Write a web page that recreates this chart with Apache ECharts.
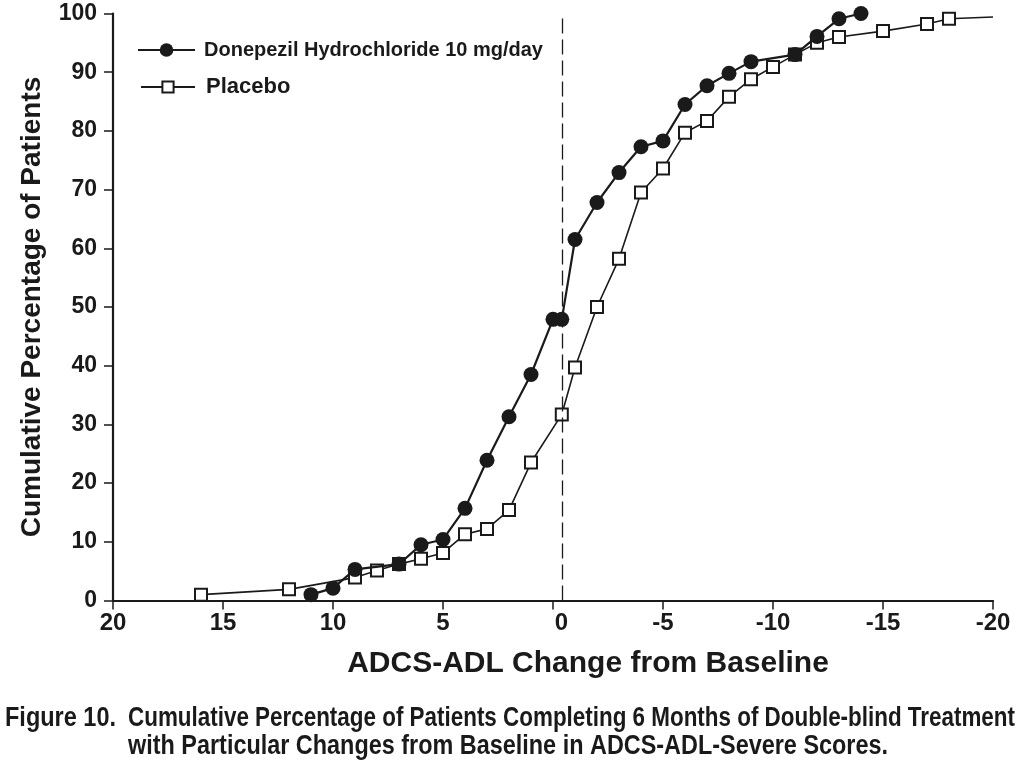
<!DOCTYPE html>
<html>
<head>
<meta charset="utf-8">
<script src="https://cdn.jsdelivr.net/npm/echarts@6/dist/echarts.min.js"></script>
<style>
  html, body { margin: 0; padding: 0; background: #fff; }
  #chart { width: 1020px; height: 772px; }
</style>
</head>
<body>
<div id="chart"></div>
<script>
// ---- Data ----
const xTicks = [20, 15, 10, 5, 0, -5, -10, -15, -20];
const yTicks = [0, 10, 20, 30, 40, 50, 60, 70, 80, 90, 100];

const donepezilName = 'Donepezil Hydrochloride 10 mg/day';
const donepezilX = [11, 10, 9, 7, 6, 5, 4, 3, 2, 1, 0, -0.4, -1, -2, -3, -4, -5, -6, -7, -8, -9, -11, -12, -13, -14];
const donepezilY = [1.0, 2.1, 5.3, 6.2, 9.5, 10.4, 15.7, 23.9, 31.3, 38.5, 47.9, 47.9, 61.5, 67.8, 72.9, 77.3, 78.3, 84.5, 87.7, 89.8, 91.8, 93.0, 96.1, 99.1, 100];

const placeboName = 'Placebo';
const placeboX = [16, 12, 9, 8, 7, 6, 5, 4, 3, 2, 1, -0.4, -1, -2, -3, -4, -5, -6, -7, -8, -9, -10, -11, -12, -13, -15, -17, -18, -20];
const placeboY = [1.0, 1.9, 3.9, 5.1, 6.2, 7.1, 8.1, 11.3, 12.2, 15.4, 23.5, 31.7, 39.7, 50.0, 58.2, 69.5, 73.6, 79.7, 81.7, 85.8, 88.8, 90.9, 93.0, 95.0, 96.0, 97.0, 98.2, 99.1, 99.4];
const placeboNoMarker = [-20]; // line continues to the axis end without a marker

const referenceLineX = -0.4; // dashed vertical reference line (drawn at the "0" tick)

const xAxisTitle = 'ADCS-ADL Change from Baseline';
const yAxisTitle = 'Cumulative Percentage of Patients';
const captionLabel = 'Figure 10.';
const captionLine1 = 'Cumulative Percentage of Patients Completing 6 Months of Double-blind Treatment';
const captionLine2 = 'with Particular Changes from Baseline in ADCS-ADL-Severe Scores.';

// ---- Build ----
const FONT = '"Liberation Sans", Arial, Helvetica, sans-serif';
const INK = '#1a1a1a';

const donepezilData = donepezilX.map((x, i) => [x, donepezilY[i]]);
const placeboData = placeboX.map((x, i) => {
  const item = { value: [x, placeboY[i]] };
  if (placeboNoMarker.includes(x)) item.symbol = 'none';
  return item;
});

// Condensed caption: horizontally compress a bold sans to the caption's widths
const captionFont = 'bold 28px ' + FONT;
const mctx = document.createElement('canvas').getContext('2d');
mctx.font = captionFont;
const fitScale = (txt, w) => w / mctx.measureText(txt).width;
const labelScale = fitScale(captionLabel, 111);
const line1Scale = fitScale(captionLine1, 887);
const line2Scale = fitScale(captionLine2, 760);

const chart = echarts.init(document.getElementById('chart'), null, { renderer: 'canvas' });

chart.setOption({
  animation: false,
  backgroundColor: '#ffffff',
  grid: { left: 113, top: 13.5, width: 880, height: 587, containLabel: false },
  xAxis: {
    type: 'value',
    min: -20, max: 20, interval: 5, inverse: true,
    axisLine: { show: true, onZero: false, lineStyle: { color: INK, width: 2.2 } },
    axisTick: { show: true, length: 9, lineStyle: { color: INK, width: 1.5 } },
    splitLine: { show: false },
    axisLabel: {
      margin: 11, color: INK, fontFamily: FONT, fontWeight: 'bold', fontSize: 24,
      formatter: v => xTicks.includes(v) ? (v === 0 ? '{z|0}' : String(v)) : '',
      rich: { z: { fontFamily: FONT, fontWeight: 'bold', fontSize: 24, color: INK, padding: [0, 0, 0, 17] } }
    },
    name: xAxisTitle, nameLocation: 'middle', nameGap: 48,
    nameTextStyle: { fontFamily: FONT, fontWeight: 'bold', fontSize: 30, color: INK, padding: [0, 0, 0, 70] }
  },
  yAxis: {
    type: 'value',
    min: 0, max: 100, interval: 10,
    axisLine: { show: true, onZero: false, lineStyle: { color: INK, width: 2.2 } },
    axisTick: { show: true, length: 9, lineStyle: { color: INK, width: 1.5 } },
    splitLine: { show: false },
    axisLabel: {
      margin: 16, color: INK, fontFamily: FONT, fontWeight: 'bold', fontSize: 23,
      formatter: v => yTicks.includes(v) ? String(v) : ''
    },
    name: yAxisTitle, nameLocation: 'middle', nameGap: 67, nameRotate: 90,
    nameTextStyle: { fontFamily: FONT, fontWeight: 'bold', fontSize: 28, color: INK }
  },
  legend: [
    {
      data: [{ name: donepezilName }],
      orient: 'vertical', left: 137, top: 40, padding: 0,
      itemWidth: 57, itemHeight: 17,
      textStyle: { fontFamily: FONT, fontWeight: 'bold', color: INK, fontSize: 20, padding: [0, 0, 0, 4] },
      selectedMode: false
    },
    {
      data: [{ name: placeboName }],
      orient: 'vertical', left: 140, top: 76, padding: 0,
      itemWidth: 54, itemHeight: 14,
      textStyle: { fontFamily: FONT, fontWeight: 'bold', color: INK, fontSize: 22, padding: [0, 0, 0, 6] },
      selectedMode: false
    }
  ],
  series: [
    {
      name: placeboName, type: 'line', data: placeboData, z: 2, clip: false,
      symbol: 'rect', symbolSize: 12,
      lineStyle: { color: INK, width: 1.6 },
      itemStyle: { color: '#ffffff', borderColor: INK, borderWidth: 2 },
      markLine: {
        silent: true, symbol: 'none', label: { show: false },
        lineStyle: { color: INK, width: 1.3, type: [15, 6] },
        data: [{ xAxis: referenceLineX }]
      }
    },
    {
      name: donepezilName, type: 'line', data: donepezilData, z: 3, clip: false,
      symbol: 'circle', symbolSize: 15,
      lineStyle: { color: INK, width: 2.2 },
      itemStyle: { color: INK, borderColor: INK, borderWidth: 0 }
    }
  ],
  graphic: [
    { type: 'text', x: 5, y: 704, scaleX: labelScale, style: { text: captionLabel, font: captionFont, fill: INK } },
    { type: 'text', x: 128, y: 704, scaleX: line1Scale, style: { text: captionLine1, font: captionFont, fill: INK } },
    { type: 'text', x: 128, y: 732, scaleX: line2Scale, style: { text: captionLine2, font: captionFont, fill: INK } }
  ]
});
</script>
</body>
</html>
